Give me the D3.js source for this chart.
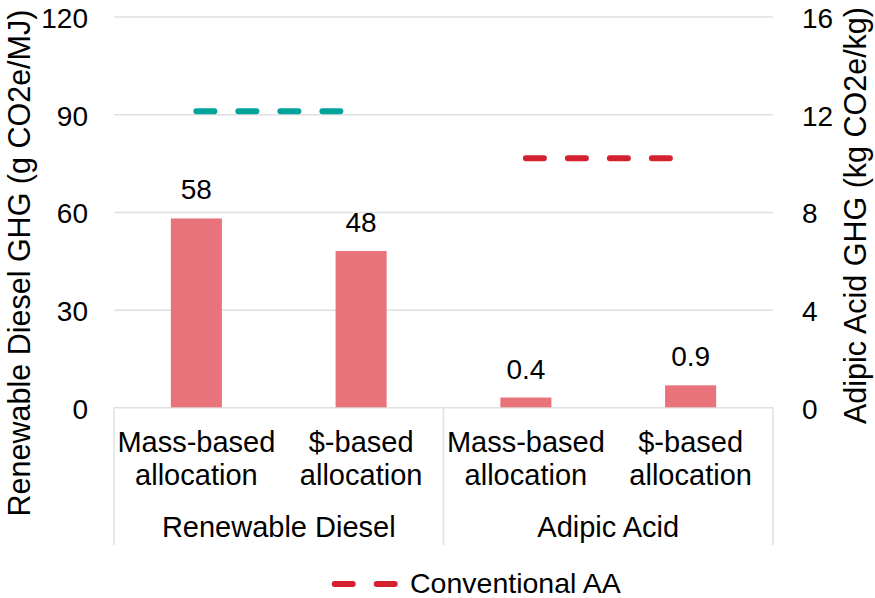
<!DOCTYPE html>
<html>
<head>
<meta charset="utf-8">
<script src="https://cdn.jsdelivr.net/npm/d3@7/dist/d3.min.js"></script>
<style>
  html, body { margin: 0; padding: 0; background: #fff; }
  svg { display: block; font-family: "Liberation Sans", Arial, sans-serif; }
</style>
</head>
<body>
<svg id="chart" width="875" height="598"></svg>
<script>
// ---- data ----
const groups = ["Renewable Diesel", "Adipic Acid"];
const methods = [["Mass-based", "allocation"], ["$-based", "allocation"]];
const dieselValues = [58, 48];          // left axis, g CO2e/MJ
const adipicValues = [0.4, 0.9];        // right axis, kg CO2e/kg
const dieselLabels = ["58", "48"];
const adipicLabels = ["0.4", "0.9"];
const conventionalDiesel = 90.9;        // left axis
const conventionalAA = 10.2;            // right axis
const leftTicks = [0, 30, 60, 90, 120];
const rightTicks = [0, 4, 8, 12, 16];
const leftTitle = "Renewable Diesel GHG (g CO2e/MJ)";
const rightTitle = "Adipic Acid GHG (kg CO2e/kg)";
const legendLabel = "Conventional AA";

// ---- layout ----
const X0 = 114, X1 = 773, Y0 = 407.3, Y1 = 16.6;
const barColor = "#E9737B", teal = "#00A39A", red = "#D4212F", gridColor = "#e0e0e0";

const svg = d3.select("#chart");

const cats = [];
groups.forEach((g, gi) => methods.forEach((m, mi) => cats.push({ id: gi + "-" + mi, group: g, gi, mi, lines: m })));
cats[0].value = dieselValues[0]; cats[0].label = dieselLabels[0]; cats[0].axis = "L";
cats[1].value = dieselValues[1]; cats[1].label = dieselLabels[1]; cats[1].axis = "L";
cats[2].value = adipicValues[0]; cats[2].label = adipicLabels[0]; cats[2].axis = "R";
cats[3].value = adipicValues[1]; cats[3].label = adipicLabels[1]; cats[3].axis = "R";

const x = d3.scaleBand().domain(cats.map(d => d.id)).range([X0, X1]).paddingInner(0.69).paddingOuter(0.345);
const xc = id => x(id) + x.bandwidth() / 2;
const yL = d3.scaleLinear().domain([0, 120]).range([Y0, Y1]);
const yR = d3.scaleLinear().domain([0, 16]).range([Y0, Y1]);
const yOf = d => d.axis === "L" ? yL(d.value) : yR(d.value);

// gridlines
const grid = svg.append("g").attr("transform", `translate(${X0},0)`)
  .call(d3.axisLeft(yL).tickValues(leftTicks).tickSize(-(X1 - X0)).tickFormat(""));
grid.select(".domain").remove();
grid.selectAll("line").attr("stroke", gridColor).attr("stroke-width", 1.5);

// category separators
const seps = [X0, (X0 + X1) / 2, X1];
svg.append("g").selectAll("line").data(seps).join("line")
  .attr("x1", d => d).attr("x2", d => d).attr("y1", Y0).attr("y2", 545)
  .attr("stroke", gridColor).attr("stroke-width", 1.5);

// bars
svg.append("g").selectAll("rect").data(cats).join("rect")
  .attr("x", d => x(d.id)).attr("width", x.bandwidth())
  .attr("y", d => yOf(d)).attr("height", d => Y0 - yOf(d))
  .attr("fill", barColor);

// data labels
svg.append("g").selectAll("text").data(cats).join("text")
  .attr("x", d => xc(d.id)).attr("y", d => yOf(d) - 19)
  .attr("text-anchor", "middle").attr("font-size", 28).attr("fill", "#000")
  .text(d => d.label);

// conventional lines
const dash = "18 24";
svg.append("line")
  .attr("x1", xc(cats[0].id)).attr("x2", xc(cats[1].id))
  .attr("y1", yL(conventionalDiesel)).attr("y2", yL(conventionalDiesel))
  .attr("stroke", teal).attr("stroke-width", 6).attr("stroke-linecap", "round")
  .attr("stroke-dasharray", dash);
svg.append("line")
  .attr("x1", xc(cats[2].id)).attr("x2", xc(cats[3].id))
  .attr("y1", yR(conventionalAA)).attr("y2", yR(conventionalAA))
  .attr("stroke", red).attr("stroke-width", 6).attr("stroke-linecap", "round")
  .attr("stroke-dasharray", dash);

// axes tick labels
const la = svg.append("g").attr("transform", `translate(88,0)`)
  .call(d3.axisLeft(yL).tickValues(leftTicks).tickSize(0).tickPadding(0));
la.select(".domain").remove();
la.selectAll("text").attr("font-size", 28).attr("fill", "#000").attr("font-family", null)
  .attr("dy", "0.39em");

const ra = svg.append("g").attr("transform", `translate(802,0)`)
  .call(d3.axisRight(yR).tickValues(rightTicks).tickSize(0).tickPadding(0));
ra.select(".domain").remove();
ra.selectAll("text").attr("font-size", 28).attr("fill", "#000").attr("font-family", null)
  .attr("dy", "0.39em");

// category labels
const cl = svg.append("g").selectAll("text").data(cats).join("text")
  .attr("text-anchor", "middle").attr("font-size", 29).attr("fill", "#000");
cl.append("tspan").attr("x", d => xc(d.id)).attr("y", 451.7).text(d => d.lines[0]);
cl.append("tspan").attr("x", d => xc(d.id)).attr("y", 485).text(d => d.lines[1]);

// group labels
svg.append("g").selectAll("text").data(groups).join("text")
  .attr("x", (d, i) => {
    const ids = cats.filter(c => c.gi === i).map(c => c.id);
    return (x(ids[0]) + x(ids[ids.length - 1]) + x.bandwidth()) / 2;
  })
  .attr("y", 536.7).attr("text-anchor", "middle").attr("font-size", 29).attr("fill", "#000")
  .text(d => d);

// axis titles
svg.append("text").attr("transform", "translate(30,263) rotate(-90)")
  .attr("text-anchor", "middle").attr("font-size", 30.5).attr("fill", "#000").text(leftTitle);
svg.append("text").attr("transform", "translate(866,215.5) rotate(-90)")
  .attr("text-anchor", "middle").attr("font-size", 30.5).attr("fill", "#000").text(rightTitle);

// legend
svg.append("line").attr("x1", 334.7).attr("x2", 394.7).attr("y1", 584).attr("y2", 584)
  .attr("stroke", red).attr("stroke-width", 6).attr("stroke-linecap", "round")
  .attr("stroke-dasharray", dash);
svg.append("text").attr("x", 410).attr("y", 593).attr("font-size", 28.5).attr("fill", "#000")
  .text(legendLabel);
</script>
</body>
</html>
